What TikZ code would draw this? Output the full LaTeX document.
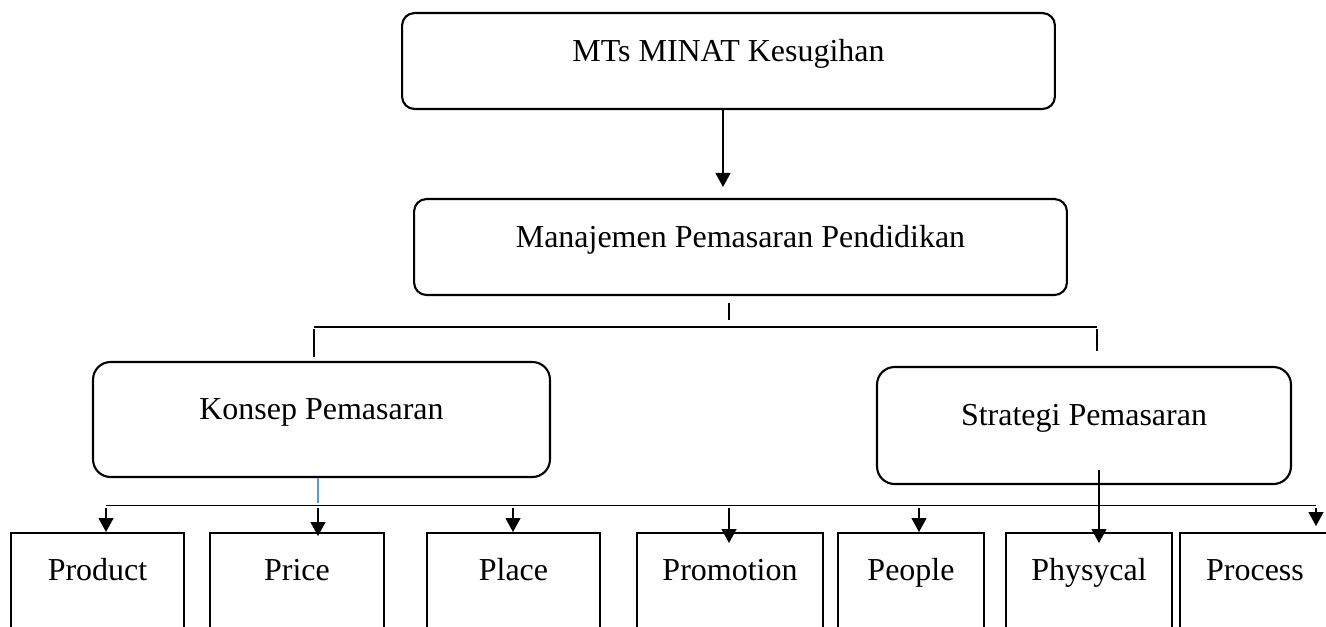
\documentclass[tikz,border=0pt]{standalone}
\usepackage{fontspec}
\setmainfont{Liberation Serif}
\usetikzlibrary{calc,arrows.meta}
\definecolor{lineblue}{RGB}{91,155,213}

\begin{document}
\begin{tikzpicture}[x=0.02cm,y=-0.02cm,
            font=\fontsize{18.2}{22}\selectfont,
            rbox/.style={draw,line width=1.2pt,rounded corners=0.25cm,text height=0.3cm,text depth=0.3cm},
            pbox/.style={draw,line width=1.2pt,anchor=north,minimum height=3.4cm,text height=0.3cm,text depth=1.82cm},
            ln/.style={line width=.6pt,black},
            arr/.style={line width=.7pt,black,-{Triangle[width=0.3cm,length=0.28cm]}}]
            \useasboundingbox (0,0) rectangle (1326,626);
            \clip (0,0) rectangle (1326,626);

            \node[rbox,minimum width=13.06cm,minimum height=1.92cm] (mts) at (728.5,61) {MTs MINAT Kesugihan};
            \node[rbox,minimum width=13.06cm,minimum height=1.92cm] (mpp) at (740.5,247) {Manajemen Pemasaran Pendidikan};
            \node[rbox,rounded corners=0.35cm,minimum width=9.14cm,minimum height=2.3cm] (kp) at (321.5,419.5) {Konsep Pemasaran};
            \node[rbox,rounded corners=0.35cm,minimum width=8.28cm,minimum height=2.34cm] (sp) at (1084,425.5) {Strategi Pemasaran};

            \foreach \n/\x/\w/\t in {prod/97.5/3.46/Product,price/297/3.48/Price,place/513.5/3.46/Place,promo/730/3.72/Promotion,peop/911/2.92/People,phys/1089/3.32/Physycal,proc/1255/3.0/Process} {
            \node[pbox,minimum width=\w cm] (\n) at (\x,532) {\t};}

            \coordinate (b1l) at (314,327);
            \coordinate (b1r) at (1097,327);
            \coordinate (b2l) at (106,505.5);
            \coordinate (b2r) at (1316,505.5);

            \draw[arr] ($(mts.south)+(-5.5,0)$) -- ($(mpp.north)+(-17.5,-11)$);
            \draw[ln] ($(mpp.south)+(-11.5,7)$) -- ($(mpp.south)+(-11.5,24)$);
            \draw[ln] (b1l) -- (b1r);
            \draw[ln] ($(b1l)+(0,2)$) -- ($(kp.north)+(-7.5,-4)$);
            \draw[ln] ($(b1r)+(0,2)$) -- ($(sp.north)+(13,-15)$);

            \draw[ln,lineblue] ($(kp.south)+(-3.5,0)$) -- ($(kp.south)+(-3.5,25)$);
            \draw[ln] (b2l) -- (b2r);
            \foreach \b/\dx/\dy in {prod/8.5/0,price/21/4,place/-0.5/0,promo/-1/11,peop/8/0,proc/61/-6} {
            \draw[arr] ($(\b.north)+(\dx,-24)$) -- ($(\b.north)+(\dx,\dy)$);}
            \draw[arr] ($(sp.south)+(15,-15)$) -- ($(phys.north)+(10,11)$);
        \end{tikzpicture}
\end{document}
